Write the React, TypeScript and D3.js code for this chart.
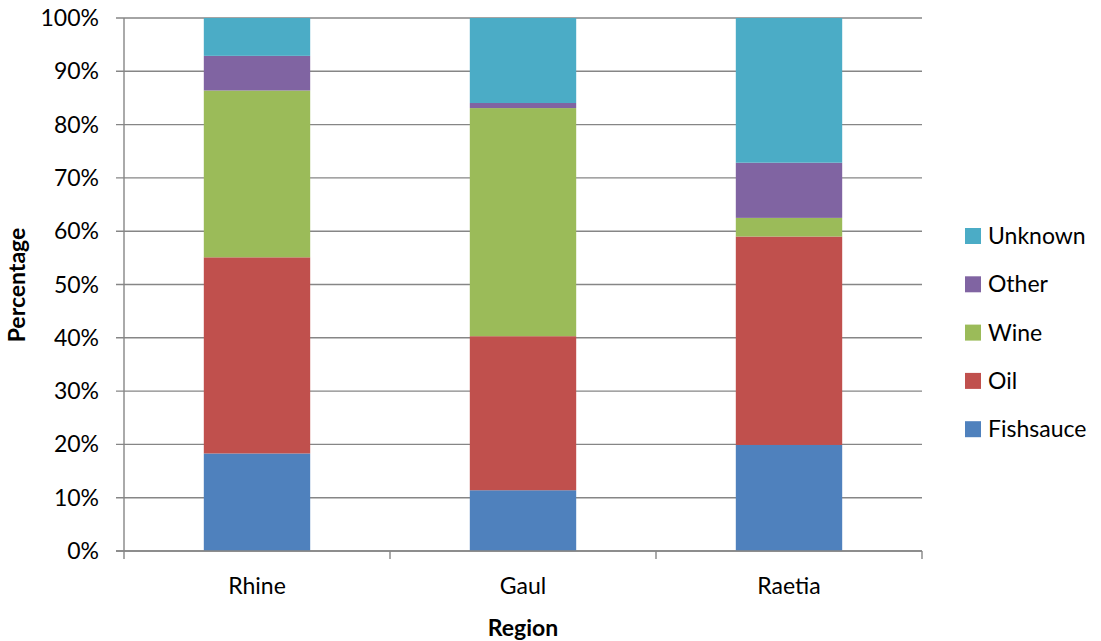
import React from "react";
import * as d3 from "d3";

const regions = ["Rhine", "Gaul", "Raetia"];
const seriesNames = ["Fishsauce", "Oil", "Wine", "Other", "Unknown"];
const fishsauce = [18.3, 11.4, 19.9];
const oil = [36.8, 28.9, 39.1];
const wine = [31.3, 42.8, 3.5];
const other = [6.5, 0.95, 10.35];
const unknown = [7.1, 15.95, 27.15];
const yTicks = [0, 10, 20, 30, 40, 50, 60, 70, 80, 90, 100];
const colors = ["#4F81BD", "#C0504D", "#9BBB59", "#8064A2", "#4BACC6"];

const W = 1101;
const H = 641;
const left = 124;
const right = 922;
const top = 18;
const bottom = 551;
const FONT = "Lato, 'Open Sans', sans-serif";
const FS = 23;

export default function App() {
  const x = d3.scaleBand<string>().domain(regions).range([left, right]).paddingInner(0.6).paddingOuter(0.3);
  const y = d3.scaleLinear().domain([0, 100]).range([bottom, top]);
  const table = regions.map((r, i) => ({
    region: r,
    Fishsauce: fishsauce[i],
    Oil: oil[i],
    Wine: wine[i],
    Other: other[i],
    Unknown: unknown[i],
  }));
  const stacked = d3.stack<any>().keys(seriesNames)(table);
  const step = (right - left) / regions.length;
  const boundaries = d3.range(regions.length + 1).map((i) => left + i * step);
  const color = d3.scaleOrdinal<string, string>().domain(seriesNames).range(colors);
  const legendOrder = [...seriesNames].reverse();

  return (
    <svg width={W} height={H} style={{ position: "absolute", left: 0, top: 0, background: "#fff" }}>
      {yTicks.map((t) => (
        <line key={"g" + t} x1={left - 8} x2={right} y1={y(t)} y2={y(t)} stroke="#868686" strokeWidth={1.4} />
      ))}
      <line x1={left} x2={left} y1={top} y2={bottom} stroke="#868686" strokeWidth={1.4} />
      {boundaries.map((b, i) => (
        <line key={"xt" + i} x1={b} x2={b} y1={bottom} y2={bottom + 8} stroke="#868686" strokeWidth={1.4} />
      ))}
      {stacked.map((s) => (
        <g key={s.key} fill={color(s.key)}>
          {s.map((d, i) => (
            <rect
              key={i}
              x={x(regions[i])}
              width={x.bandwidth()}
              y={y(d[1])}
              height={Math.max(0, y(d[0]) - y(d[1]))}
            />
          ))}
        </g>
      ))}
      <line x1={left - 8} x2={right} y1={bottom} y2={bottom} stroke="#868686" strokeWidth={1.4} />
      {yTicks.map((t) => (
        <text
          key={"yl" + t}
          x={99}
          y={y(t)}
          dy="0.35em"
          textAnchor="end"
          fontFamily={FONT}
          fontSize={FS}
          fill="#000"
        >
          {t + "%"}
        </text>
      ))}
      {regions.map((r) => (
        <text
          key={"xl" + r}
          x={(x(r) as number) + x.bandwidth() / 2}
          y={594}
          textAnchor="middle"
          fontFamily={FONT}
          fontSize={FS}
          fill="#000"
        >
          {r}
        </text>
      ))}
      <text x={523} y={636} textAnchor="middle" fontFamily={FONT} fontSize={FS} fontWeight="bold" fill="#000">
        Region
      </text>
      <text
        transform={`translate(25,285) rotate(-90)`}
        textAnchor="middle"
        fontFamily={FONT}
        fontSize={FS}
        fontWeight="bold"
        fill="#000"
      >
        Percentage
      </text>
      {legendOrder.map((name, i) => {
        const cy = 236 + i * 48.3;
        return (
          <g key={"lg" + name}>
            <rect x={965} y={cy - 8} width={16} height={16} fill={color(name)} />
            <text x={988} y={cy} dy="0.35em" fontFamily={FONT} fontSize={FS} fill="#000">
              {name}
            </text>
          </g>
        );
      })}
    </svg>
  );
}
